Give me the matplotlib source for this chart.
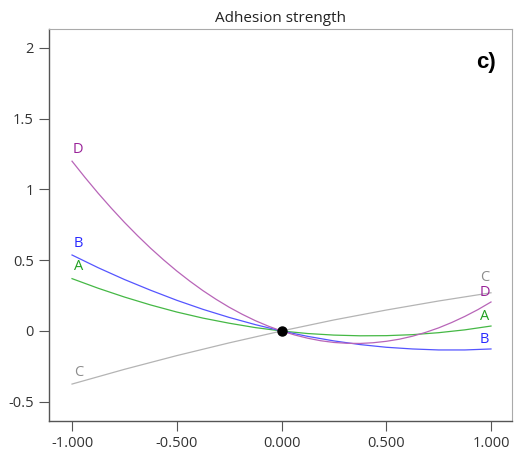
import numpy as np
import matplotlib
matplotlib.use("Agg")
import matplotlib.pyplot as plt

plt.rcParams['font.family'] = ['Open Sans', 'DejaVu Sans']

# deviation from reference point (coded units)
x_fine = [-1.0, -0.875, -0.75, -0.625, -0.5, -0.375, -0.25, -0.125, 0.0,
          0.125, 0.25, 0.375, 0.5, 0.625, 0.75, 0.875, 1.0]
x_coarse = [-1.0, -0.75, -0.5, -0.25, 0.0, 0.25, 0.5, 0.75, 1.0]
x_dense = [-1.0, -0.9375, -0.875, -0.8125, -0.75, -0.6875, -0.625, -0.5625,
           -0.5, -0.4375, -0.375, -0.3125, -0.25, -0.1875, -0.125, -0.0625,
           0.0, 0.0625, 0.125, 0.1875, 0.25, 0.3125, 0.375, 0.4375, 0.5,
           0.5625, 0.625, 0.6875, 0.75, 0.8125, 0.875, 0.9375, 1.0]

# adhesion strength response
A = [0.370, 0.302, 0.240, 0.184, 0.134, 0.091, 0.055, 0.024, 0.0,
     -0.018, -0.029, -0.034, -0.033, -0.026, -0.012, 0.008, 0.035]
B = [0.537, 0.447, 0.364, 0.288, 0.217, 0.153, 0.096, 0.045, 0.0,
     -0.038, -0.070, -0.096, -0.115, -0.127, -0.134, -0.134, -0.127]
C = [-0.375, -0.271, -0.174, -0.084, 0.0, 0.078, 0.148, 0.212, 0.270]
D = [1.200, 1.084, 0.973, 0.868, 0.768, 0.674, 0.585, 0.502,
     0.424, 0.352, 0.285, 0.224, 0.168, 0.118, 0.073, 0.034,
     0.0, -0.028, -0.051, -0.069, -0.081, -0.087, -0.088, -0.083, -0.073,
     -0.058, -0.037, -0.010, 0.022, 0.060, 0.103, 0.151, 0.205]

xticks = [-1.0, -0.5, 0.0, 0.5, 1.0]
xticklabels = ['-1.000', '-0.500', '0.000', '0.500', '1.000']
yticks = [-0.5, 0, 0.5, 1, 1.5, 2]
yticklabels = ['-0.5', '0', '0.5', '1', '1.5', '2']

# name, x, y, line colour, label colour, label offset at right end (pt)
series = [
    ('A', x_fine, A, '#45b845', '#22a022', 7),
    ('B', x_fine, B, '#5555ff', '#2a2aff', 6.5),
    ('C', x_coarse, C, '#b4b4b4', '#8c8c8c', 11),
    ('D', x_dense, D, '#b865b8', '#992299', 6.5),
]

fig = plt.figure(figsize=(5.14, 4.57), dpi=100)
ax = fig.add_axes([0.0953, 0.0788, 0.9007, 0.8577])

for name, xs, ys, lc, tc, off in series:
    ax.plot(xs, ys, color=lc, lw=0.9)
    ax.annotate(name, (xs[0], ys[0]), xytext=(4.5, 8.5), textcoords='offset points',
                ha='center', va='center', color=tc, fontsize=10.5)
    ax.annotate(name, (xs[-1], ys[-1]), xytext=(-4.5, off), textcoords='offset points',
                ha='center', va='center', color=tc, fontsize=10.5)

# reference point
ax.plot([0], [0], 'o', color='black', ms=6.5, zorder=5)

ax.set_xlim(-1.11, 1.10)
ax.set_ylim(-0.636, 2.134)
ax.set_xticks(xticks)
ax.set_xticklabels(xticklabels)
ax.set_yticks(yticks)
ax.set_yticklabels(yticklabels)
ax.tick_params(direction='out', length=7, width=0.8, color='#555555',
               labelcolor='#333333', labelsize=10.5, pad=4)

for s in ['left', 'bottom']:
    ax.spines[s].set_color('#555555')
    ax.spines[s].set_linewidth(1.0)
for s in ['top', 'right']:
    ax.spines[s].set_color('#aaaaaa')
    ax.spines[s].set_linewidth(0.8)

ax.set_title('Adhesion strength', fontsize=11, color='#222222', pad=5)
ax.text(0.965, 0.915, 'c)', transform=ax.transAxes, fontsize=16, fontweight='bold',
        ha='right', va='center', family=['Liberation Sans', 'DejaVu Sans'])

fig.savefig('out.png', dpi=100)
